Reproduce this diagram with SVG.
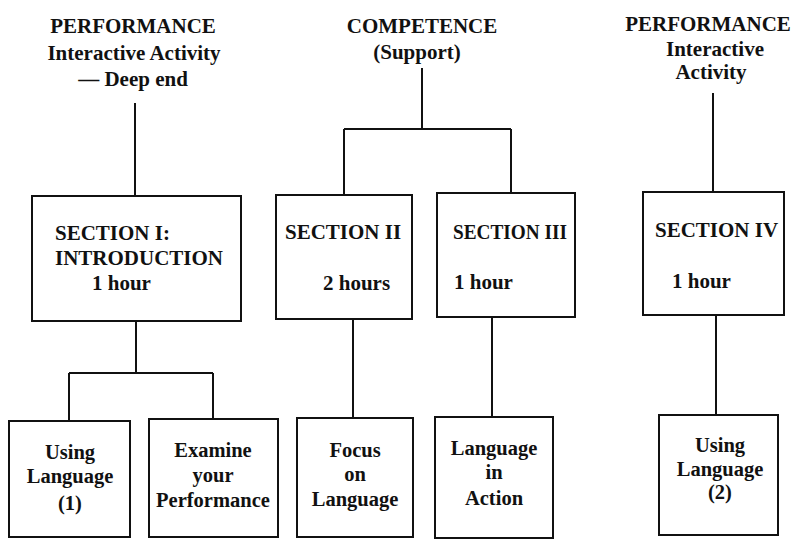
<svg xmlns="http://www.w3.org/2000/svg" width="798" height="539" viewBox="0 0 798 539">
<style>
  .bg { fill: #ffffff; }
  .box { fill: none; stroke: #111; stroke-width: 2; }
  .ln { fill: none; stroke: #111; stroke-width: 2; }
  text { font-family: "Liberation Serif", "Times New Roman", serif; font-weight: bold; fill: #111; font-size: 20.5px; }
  .h { font-size: 21px; }
  .c { text-anchor: middle; }
</style>
<rect class="bg" x="0" y="0" width="798" height="539"/>

<g id="header-performance-1">
  <text class="h c" x="133" y="33">PERFORMANCE</text>
  <text class="h c" x="134" y="60">Interactive Activity</text>
  <text class="h c" x="133" y="86">— Deep end</text>
</g>
<g id="header-competence">
  <text class="h c" x="422" y="33">COMPETENCE</text>
  <text class="h c" x="417" y="59">(Support)</text>
</g>
<g id="header-performance-2">
  <text class="h c" x="708" y="31">PERFORMANCE</text>
  <text class="h c" x="715" y="56">Interactive</text>
  <text class="h c" x="711" y="79">Activity</text>
</g>

<g id="section-1">
  <rect class="box" x="32" y="196" width="209" height="125"/>
  <text class="h" x="55" y="240">SECTION I:</text>
  <text class="h" x="55" y="265">INTRODUCTION</text>
  <text class="h" x="92" y="290">1 hour</text>
</g>
<g id="section-2">
  <rect class="box" x="276" y="195" width="136" height="124"/>
  <text class="h" x="285" y="239">SECTION II</text>
  <text class="h" x="323" y="290">2 hours</text>
</g>
<g id="section-3">
  <rect class="box" x="437" y="193" width="138" height="124"/>
  <text class="h" x="453" y="239" textLength="114" lengthAdjust="spacingAndGlyphs">SECTION III</text>
  <text class="h" x="454" y="289">1 hour</text>
</g>
<g id="section-4">
  <rect class="box" x="643" y="192" width="141" height="123"/>
  <text class="h" x="655" y="237">SECTION IV</text>
  <text class="h" x="672" y="288">1 hour</text>
</g>

<g id="using-language-1">
  <rect class="box" x="9" y="421" width="121" height="116"/>
  <text class="c" x="70" y="459">Using</text>
  <text class="c" x="70" y="483">Language</text>
  <text class="c" x="70" y="510">(1)</text>
</g>
<g id="examine-performance">
  <rect class="box" x="149" y="419" width="129" height="118"/>
  <text class="c" x="213" y="457">Examine</text>
  <text class="c" x="213" y="482">your</text>
  <text class="c" x="213" y="507">Performance</text>
</g>
<g id="focus-on-language">
  <rect class="box" x="297" y="418" width="116" height="119"/>
  <text class="c" x="355" y="457">Focus</text>
  <text class="c" x="355" y="481">on</text>
  <text class="c" x="355" y="506">Language</text>
</g>
<g id="language-in-action">
  <rect class="box" x="435" y="417" width="118" height="121"/>
  <text class="c" x="494" y="455">Language</text>
  <text class="c" x="494" y="479">in</text>
  <text class="c" x="494" y="505">Action</text>
</g>
<g id="using-language-2">
  <rect class="box" x="659" y="415" width="119" height="120"/>
  <text class="c" x="720" y="452">Using</text>
  <text class="c" x="720" y="476">Language</text>
  <text class="c" x="720" y="499">(2)</text>
</g>

<g id="connectors">
  <path class="ln" d="M135 103 V196"/>
  <path class="ln" d="M422 68 V129 M344 129 H511 M344 129 V195 M511 129 V193"/>
  <path class="ln" d="M713 93 V192"/>
  <path class="ln" d="M136 321 V373 M69 373 H213 M69 373 V421 M213 373 V419"/>
  <path class="ln" d="M353 319 V418"/>
  <path class="ln" d="M492 317 V417"/>
  <path class="ln" d="M716 315 V415"/>
</g>
</svg>
